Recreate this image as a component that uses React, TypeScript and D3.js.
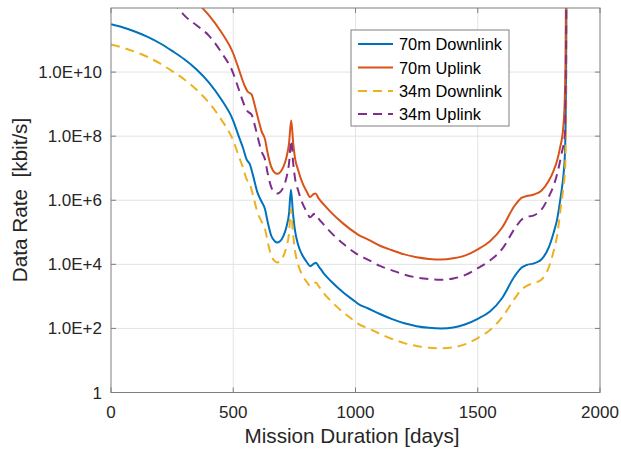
import React from "react";
import * as d3 from "d3";

// ---- Data (log10 of data rate in kbit/s) ----
const daysDL70 = [0,50,100,150,200,250,300,350,400,450,500,520,540,555,568,580,600,615,630,640,655,670,680,690,705,718,728,736,744,752,765,785,800,815,830,838,850,870,900,950,1000,1010,1050,1100,1150,1200,1250,1300,1350,1400,1450,1500,1550,1600,1650,1680,1700,1730,1760,1790,1810,1825,1840,1850,1856,1859,1861,1863];
const logDL70 = [11.49,11.39,11.26,11.10,10.90,10.66,10.40,10.08,9.68,9.16,8.48,8.05,7.63,7.27,7.12,6.80,6.22,5.97,5.72,5.35,4.90,4.72,4.68,4.71,4.88,5.18,5.58,6.33,5.62,5.08,4.62,4.25,4.08,3.94,4.02,4.05,3.93,3.72,3.47,3.12,2.83,2.77,2.63,2.45,2.29,2.16,2.07,2.02,2.00,2.03,2.13,2.30,2.53,2.95,3.62,3.90,3.98,4.03,4.15,4.52,4.98,5.42,6.15,6.75,7.35,8.2,9.6,12.5];

const daysUL70 = [330,371,400,450,500,520,548,558,575,590,605,616,630,640,655,670,680,690,705,718,728,737,745,753,765,785,800,814,830,836,850,870,900,950,1000,1010,1050,1100,1150,1200,1250,1300,1350,1400,1450,1500,1550,1600,1650,1680,1700,1730,1760,1790,1810,1825,1836,1850,1856,1859,1861];
const logUL70 = [12.36,12.02,11.78,11.26,10.58,10.15,9.55,9.4,9.3,8.9,8.45,8.15,7.9,7.5,7.05,6.86,6.83,6.86,7.04,7.35,7.77,8.49,7.8,7.3,6.95,6.5,6.28,6.1,6.2,6.21,6.05,5.87,5.62,5.27,4.98,4.93,4.78,4.58,4.44,4.31,4.22,4.17,4.15,4.19,4.28,4.47,4.72,5.15,5.82,6.08,6.13,6.18,6.3,6.6,6.92,7.25,7.62,8.3,9.2,10.5,12.5];

const daysDL34 = [0,50,100,150,200,250,300,350,400,450,500,520,540,555,568,580,600,615,630,640,655,670,680,690,705,718,728,736,744,752,765,785,800,815,830,838,850,870,900,950,1000,1010,1050,1100,1150,1200,1250,1300,1350,1400,1450,1500,1550,1600,1650,1680,1700,1730,1760,1790,1810,1825,1840,1850,1857,1860,1862,1864];
const logDL34 = [10.86,10.76,10.63,10.47,10.27,10.03,9.77,9.45,9.05,8.53,7.86,7.43,7.01,6.65,6.5,6.18,5.6,5.35,5.1,4.73,4.28,4.1,4.06,4.09,4.26,4.56,4.96,5.72,5.0,4.46,4.0,3.63,3.46,3.32,3.4,3.43,3.31,3.1,2.85,2.5,2.21,2.15,2.01,1.83,1.67,1.54,1.45,1.4,1.38,1.41,1.51,1.7,1.95,2.35,2.92,3.22,3.33,3.42,3.52,3.9,4.4,4.92,5.8,6.4,6.94,7.8,9.5,12.5];

const daysUL34 = [250,275,300,350,400,450,500,520,548,558,575,590,605,616,630,640,655,670,680,690,705,718,728,737,745,753,765,785,800,814,830,836,850,870,900,950,1000,1010,1050,1100,1150,1200,1250,1300,1350,1400,1450,1500,1550,1600,1650,1680,1700,1730,1760,1790,1810,1825,1843,1857,1860,1862];
const logUL34 = [12.2,12.0,11.77,11.46,11.14,10.63,9.96,9.52,8.92,8.78,8.67,8.28,7.82,7.52,7.27,6.87,6.42,6.24,6.21,6.24,6.41,6.72,7.14,7.87,7.17,6.67,6.32,5.87,5.65,5.47,5.57,5.58,5.42,5.24,4.99,4.64,4.35,4.3,4.15,3.95,3.81,3.68,3.59,3.54,3.52,3.56,3.67,3.88,4.12,4.48,5.1,5.4,5.48,5.53,5.7,6.1,6.45,6.83,7.46,8.09,9.5,12.5];

const seriesNames = ["70m Downlink", "70m Uplink", "34m Downlink", "34m Uplink"];
const xTicks = [0, 500, 1000, 1500, 2000];
const yTicks = [1, 1e2, 1e4, 1e6, 1e8, 1e10];
const yTickLabels = ["1", "1.0E+2", "1.0E+4", "1.0E+6", "1.0E+8", "1.0E+10"];

const W = 621, H = 451;
const L = 111, R = 600, T = 8, B = 392.5;
const FONT = "'Liberation Sans', Arial, Helvetica, sans-serif";
const TXT = "#262626";

export default function App() {
  const x = d3.scaleLinear().domain([0, 2000]).range([L, R]);
  const y = d3.scaleLog().domain([1, 1e12]).range([B, T]);

  const series = [
    { name: seriesNames[0], days: daysDL70, vals: logDL70, color: "#0072BD", dash: "" },
    { name: seriesNames[1], days: daysUL70, vals: logUL70, color: "#D95319", dash: "" },
    { name: seriesNames[2], days: daysDL34, vals: logDL34, color: "#EDB120", dash: "9,6" },
    { name: seriesNames[3], days: daysUL34, vals: logUL34, color: "#7E2F8E", dash: "9,6" },
  ];

  const line = d3
    .line<[number, number]>()
    .x((d) => x(d[0]))
    .y((d) => y(Math.pow(10, d[1])))
    .curve(d3.curveMonotoneX);

  const legendRows = [44, 67.5, 91, 114];

  return (
    <svg width={W} height={H} style={{ position: "absolute", left: 0, top: 0, background: "#fff" }}>
      <defs>
        <clipPath id="plotclip">
          <rect x={L} y={T} width={R - L} height={B - T} />
        </clipPath>
      </defs>
      <rect x={0} y={0} width={W} height={H} fill="#fff" />
      {/* grid */}
      {xTicks.slice(1, -1).map((t) => (
        <line key={"gx" + t} x1={x(t)} x2={x(t)} y1={T} y2={B} stroke="#e3e3e3" strokeWidth={1} />
      ))}
      {yTicks.slice(1).map((t) => (
        <line key={"gy" + t} x1={L} x2={R} y1={y(t)} y2={y(t)} stroke="#e3e3e3" strokeWidth={1} />
      ))}
      {/* lines */}
      <g clipPath="url(#plotclip)">
        {series.map((s) => (
          <path
            key={s.name}
            d={line(s.days.map((d, i) => [d, s.vals[i]] as [number, number])) || ""}
            fill="none"
            stroke={s.color}
            strokeWidth={2}
            strokeDasharray={s.dash || undefined}
            strokeLinejoin="round"
          />
        ))}
      </g>
      {/* box */}
      <rect x={L} y={T} width={R - L} height={B - T} fill="none" stroke="#7f7f7f" strokeWidth={1} />
      {/* ticks */}
      {xTicks.map((t) => (
        <g key={"tx" + t}>
          <line x1={x(t)} x2={x(t)} y1={B} y2={B - 5} stroke="#7f7f7f" />
          <line x1={x(t)} x2={x(t)} y1={T} y2={T + 5} stroke="#7f7f7f" />
        </g>
      ))}
      {yTicks.map((t) => (
        <g key={"ty" + t}>
          <line x1={L} x2={L + 5} y1={y(t)} y2={y(t)} stroke="#7f7f7f" />
          <line x1={R} x2={R - 5} y1={y(t)} y2={y(t)} stroke="#7f7f7f" />
        </g>
      ))}
      {/* tick labels */}
      {xTicks.map((t) => (
        <text key={"lx" + t} x={x(t)} y={418} textAnchor="middle" fontFamily={FONT} fontSize={17} fill={TXT}>
          {t}
        </text>
      ))}
      {yTicks.map((t, i) => (
        <text key={"ly" + t} x={102} y={y(t) + 6} textAnchor="end" fontFamily={FONT} fontSize={17} fill={TXT}>
          {yTickLabels[i]}
        </text>
      ))}
      {/* axis labels */}
      <text x={352} y={443} textAnchor="middle" fontFamily={FONT} fontSize={20.7} fill={TXT}>
        Mission Duration [days]
      </text>
      <text
        transform={`translate(27,200) rotate(-90)`}
        textAnchor="middle"
        fontFamily={FONT}
        fontSize={20.7}
        fill={TXT}
        style={{ whiteSpace: "pre" }}
      >
        {"Data Rate  [kbit/s]"}
      </text>
      {/* legend */}
      <rect x={351} y={30} width={158} height={96} fill="#fff" stroke="#7f7f7f" strokeWidth={1} />
      {series.map((s, i) => (
        <g key={"lg" + s.name}>
          <line
            x1={358}
            x2={393}
            y1={legendRows[i]}
            y2={legendRows[i]}
            stroke={s.color}
            strokeWidth={2}
            strokeDasharray={s.dash || undefined}
          />
          <text x={399} y={legendRows[i] + 6} fontFamily={FONT} fontSize={16.4} fill="#000">
            {s.name}
          </text>
        </g>
      ))}
    </svg>
  );
}
